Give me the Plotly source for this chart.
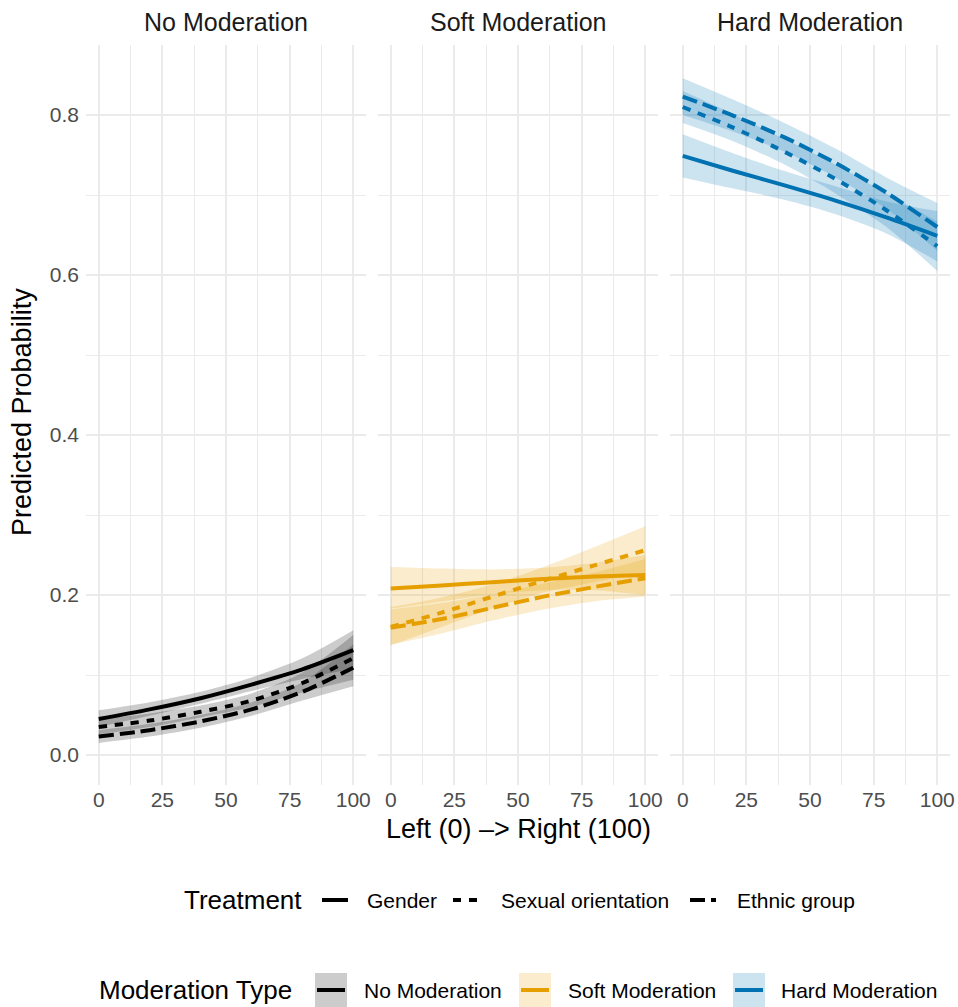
import plotly.graph_objects as go
from plotly.subplots import make_subplots

# ---------------- data ----------------
x_vals = [0, 20, 40, 60, 80, 100]
panels = ["No Moderation", "Soft Moderation", "Hard Moderation"]
treatments = ["Gender", "Sexual orientation", "Ethnic group"]
x_ticks = [0, 25, 50, 75, 100]
y_ticks = [0.0, 0.2, 0.4, 0.6, 0.8]
y_tick_labels = ["0.0", "0.2", "0.4", "0.6", "0.8"]

# No Moderation
no_gender = [0.045, 0.057, 0.071, 0.088, 0.107, 0.131]
no_gender_lo = [0.035, 0.049, 0.064, 0.080, 0.095, 0.108]
no_gender_hi = [0.056, 0.066, 0.079, 0.097, 0.121, 0.156]
no_sexual = [0.035, 0.043, 0.054, 0.068, 0.090, 0.121]
no_sexual_lo = [0.026, 0.035, 0.047, 0.060, 0.078, 0.094]
no_sexual_hi = [0.045, 0.052, 0.062, 0.077, 0.103, 0.150]
no_ethnic = [0.023, 0.031, 0.042, 0.057, 0.079, 0.109]
no_ethnic_lo = [0.015, 0.023, 0.034, 0.049, 0.068, 0.086]
no_ethnic_hi = [0.031, 0.039, 0.050, 0.066, 0.091, 0.138]

# Soft Moderation
soft_gender = [0.208, 0.212, 0.216, 0.220, 0.223, 0.225]
soft_gender_lo = [0.183, 0.192, 0.201, 0.206, 0.206, 0.200]
soft_gender_hi = [0.235, 0.233, 0.232, 0.234, 0.240, 0.250]
soft_sexual = [0.160, 0.178, 0.198, 0.218, 0.237, 0.256]
soft_sexual_lo = [0.137, 0.160, 0.183, 0.203, 0.216, 0.228]
soft_sexual_hi = [0.185, 0.197, 0.213, 0.235, 0.260, 0.286]
soft_ethnic = [0.159, 0.170, 0.184, 0.198, 0.210, 0.221]
soft_ethnic_lo = [0.138, 0.152, 0.168, 0.182, 0.192, 0.198]
soft_ethnic_hi = [0.182, 0.190, 0.201, 0.214, 0.228, 0.245]

# Hard Moderation
hard_gender = [0.749, 0.730, 0.712, 0.693, 0.672, 0.649]
hard_gender_lo = [0.722, 0.708, 0.694, 0.676, 0.652, 0.617]
hard_gender_hi = [0.776, 0.752, 0.730, 0.711, 0.692, 0.680]
hard_sexual = [0.810, 0.784, 0.754, 0.720, 0.681, 0.636]
hard_sexual_lo = [0.790, 0.767, 0.738, 0.702, 0.660, 0.605]
hard_sexual_hi = [0.830, 0.801, 0.770, 0.738, 0.702, 0.667]
hard_ethnic = [0.823, 0.799, 0.772, 0.740, 0.703, 0.660]
hard_ethnic_lo = [0.800, 0.779, 0.754, 0.722, 0.683, 0.630]
hard_ethnic_hi = [0.846, 0.819, 0.790, 0.758, 0.722, 0.690]

# ---------------- styles ----------------
panel_colors = ["#000000", "#E69F00", "#0072B2"]
panel_fills = ["rgba(0,0,0,0.2)", "rgba(230,159,0,0.2)", "rgba(0,114,178,0.2)"]
key_fills = ["#CCCCCC", "#FAECCC", "#CCE3F0"]
dashes = ["solid", "8px,8px", "15px,6px"]
LW = 4
FONT = "Liberation Sans, Arial, sans-serif"

series = {
    0: [(no_gender, no_gender_lo, no_gender_hi),
        (no_sexual, no_sexual_lo, no_sexual_hi),
        (no_ethnic, no_ethnic_lo, no_ethnic_hi)],
    1: [(soft_gender, soft_gender_lo, soft_gender_hi),
        (soft_sexual, soft_sexual_lo, soft_sexual_hi),
        (soft_ethnic, soft_ethnic_lo, soft_ethnic_hi)],
    2: [(hard_gender, hard_gender_lo, hard_gender_hi),
        (hard_sexual, hard_sexual_lo, hard_sexual_hi),
        (hard_ethnic, hard_ethnic_lo, hard_ethnic_hi)],
}

W, H = 958, 1007
ML, MR, MT, MB = 86, 8, 45, 222
PW = W - ML - MR
PH = H - MT - MB


def px2x(px):
    return (px - ML) / PW


def px2y(py):
    return (H - MB - py) / PH


fig = make_subplots(rows=1, cols=3, shared_yaxes=True,
                    horizontal_spacing=12 / PW)

# ribbons first (lower bound, then upper bound filled to it)
for p in range(3):
    for t in range(3):
        mid, lo, hi = series[p][t]
        fig.add_trace(go.Scatter(
            x=x_vals, y=lo, mode="lines",
            line=dict(width=0, shape="spline", smoothing=0.8),
            showlegend=False, hoverinfo="skip"),
            row=1, col=p + 1)
        fig.add_trace(go.Scatter(
            x=x_vals, y=hi, mode="lines", fill="tonexty",
            fillcolor=panel_fills[p],
            line=dict(width=0, shape="spline", smoothing=0.8),
            showlegend=False, hoverinfo="skip"),
            row=1, col=p + 1)

# lines
for p in range(3):
    for t in range(3):
        mid, lo, hi = series[p][t]
        fig.add_trace(go.Scatter(
            x=x_vals, y=mid, mode="lines",
            line=dict(color=panel_colors[p], width=LW, dash=dashes[t],
                      shape="spline", smoothing=0.8),
            name=treatments[t], showlegend=False),
            row=1, col=p + 1)

grid = "#EBEBEB"
for i in range(1, 4):
    fig.update_xaxes(
        range=[-5, 105], tickvals=x_ticks, ticktext=[str(v) for v in x_ticks],
        showgrid=True, gridcolor=grid, gridwidth=2, zeroline=False,
        showline=False, ticks="",
        tickfont=dict(family=FONT, size=21, color="#4D4D4D"),
        minor=dict(tick0=0, dtick=12.5, showgrid=True, gridcolor=grid, gridwidth=1.2),
        row=1, col=i)
    fig.update_yaxes(
        range=[-0.0375, 0.8875], tickvals=y_ticks, ticktext=y_tick_labels,
        showgrid=True, gridcolor=grid, gridwidth=2, zeroline=False,
        showline=False, ticks="",
        tickfont=dict(family=FONT, size=21, color="#4D4D4D"),
        minor=dict(tick0=0, dtick=0.1, showgrid=True, gridcolor=grid, gridwidth=1.2),
        row=1, col=i)
fig.update_yaxes(ticklabelstandoff=6, row=1, col=1)

annotations = []
shapes = []

# strip titles
for p, cx in enumerate([226, 518, 810]):
    annotations.append(dict(
        text=panels[p], x=px2x(cx), y=px2y(22), xref="paper", yref="paper",
        xanchor="center", yanchor="middle", showarrow=False,
        font=dict(family=FONT, size=25, color="#1A1A1A")))

# axis titles
annotations.append(dict(
    text="Left (0) \u2013> Right (100)", x=px2x(518), y=px2y(829),
    xref="paper", yref="paper", xanchor="center", yanchor="middle",
    showarrow=False, font=dict(family=FONT, size=27, color="#000000")))
annotations.append(dict(
    text="Predicted Probability", x=px2x(22), y=px2y(412),
    xref="paper", yref="paper", xanchor="center", yanchor="middle",
    textangle=-90, showarrow=False,
    font=dict(family=FONT, size=27, color="#000000")))

# Treatment legend
ly = 900
annotations.append(dict(
    text="Treatment", x=px2x(182), y=px2y(ly), xref="paper", yref="paper",
    xanchor="left", yanchor="middle", showarrow=False,
    font=dict(family=FONT, size=26, color="#000000")))
t_keys = [(322, 365), (453, 499), (690, 735)]
for t, (kx, tx) in enumerate(t_keys):
    shapes.append(dict(
        type="line", xref="paper", yref="paper",
        x0=px2x(kx), x1=px2x(kx + 26), y0=px2y(ly), y1=px2y(ly),
        line=dict(color="#000000", width=LW, dash=dashes[t])))
    annotations.append(dict(
        text=treatments[t], x=px2x(tx), y=px2y(ly), xref="paper", yref="paper",
        xanchor="left", yanchor="middle", showarrow=False,
        font=dict(family=FONT, size=21, color="#000000")))

# Moderation Type legend
my = 990
annotations.append(dict(
    text="Moderation Type", x=px2x(97), y=px2y(my), xref="paper", yref="paper",
    xanchor="left", yanchor="middle", showarrow=False,
    font=dict(family=FONT, size=26, color="#000000")))
m_keys = [(315, 362), (519, 566), (733, 779)]
for p, (kx, tx) in enumerate(m_keys):
    shapes.append(dict(
        type="rect", xref="paper", yref="paper",
        x0=px2x(kx), x1=px2x(kx + 32), y0=px2y(my - 17), y1=px2y(my + 17),
        fillcolor=key_fills[p], line=dict(width=0)))
    shapes.append(dict(
        type="line", xref="paper", yref="paper",
        x0=px2x(kx + 2), x1=px2x(kx + 30), y0=px2y(my), y1=px2y(my),
        line=dict(color=panel_colors[p], width=LW)))
    annotations.append(dict(
        text=panels[p], x=px2x(tx), y=px2y(my), xref="paper", yref="paper",
        xanchor="left", yanchor="middle", showarrow=False,
        font=dict(family=FONT, size=21, color="#000000")))

fig.update_layout(
    width=W, height=H,
    margin=dict(l=ML, r=MR, t=MT, b=MB, autoexpand=False),
    paper_bgcolor="white", plot_bgcolor="white",
    showlegend=False,
    annotations=annotations, shapes=shapes,
    font=dict(family=FONT),
)

fig.write_html("out.html",
               config={"displayModeBar": False},
               post_script="document.body.style.margin='0';document.body.style.overflow='hidden';")
